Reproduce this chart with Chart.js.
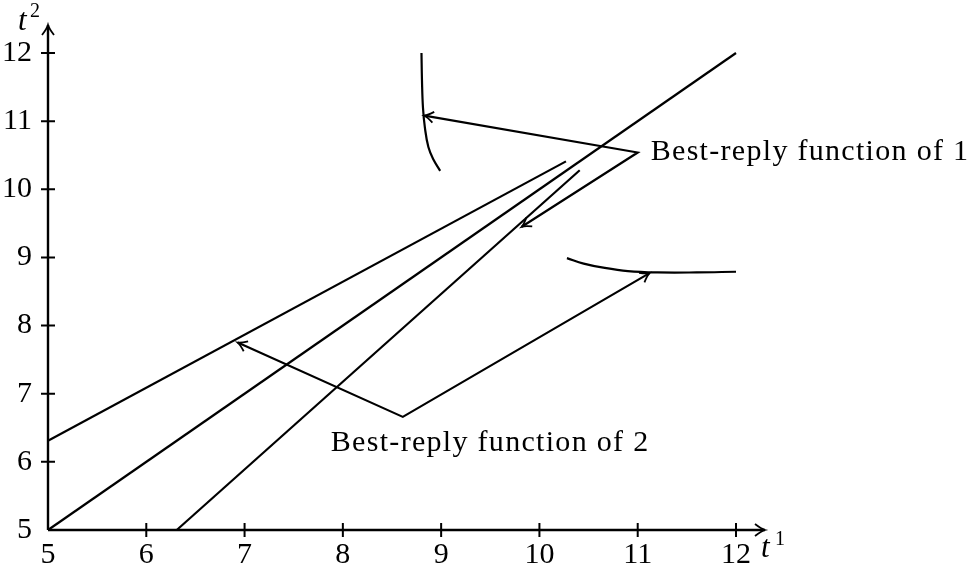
<!DOCTYPE html>
<html>
<head>
<meta charset="utf-8">
<script src="https://cdn.jsdelivr.net/npm/chart.js@4.4.1/dist/chart.umd.min.js"></script>
<style>
  html, body { margin: 0; padding: 0; background: #fff; }
  #wrap { width: 977px; height: 569px; }
</style>
</head>
<body>
<div id="wrap"><canvas id="chart" width="977" height="569"></canvas></div>
<script>
// axis ticks (t1 across, t2 up)
const X_TICKS = [5, 6, 7, 8, 9, 10, 11, 12];
const Y_TICKS = [5, 6, 7, 8, 9, 10, 11, 12];

// straight lines
const UPPER_LINE = [{ x: 5, y: 6.31 }, { x: 10.27, y: 10.41 }];
const DIAGONAL = [{ x: 5, y: 5 }, { x: 12, y: 12 }];
const LOWER_LINE = [{ x: 6.31, y: 5 }, { x: 10.41, y: 10.28 }];

// best-reply curves
const BEST_REPLY_1 = [
  { x: 8.80, y: 12.0 }, { x: 8.805, y: 11.6 }, { x: 8.815, y: 11.2 },
  { x: 8.835, y: 10.9 }, { x: 8.87, y: 10.62 }, { x: 8.92, y: 10.44 },
  { x: 8.99, y: 10.27 }
];
const BEST_REPLY_2 = [
  { x: 10.28, y: 8.99 }, { x: 10.45, y: 8.91 }, { x: 10.65, y: 8.85 },
  { x: 10.9, y: 8.80 }, { x: 11.2, y: 8.78 }, { x: 11.6, y: 8.78 },
  { x: 12.0, y: 8.79 }
];

// callouts: arrow tip, label corner, arrow tip
const CALLOUT_1 = [{ x: 8.83, y: 11.08 }, { x: 11.0, y: 10.54 }, { x: 9.82, y: 9.45 }];
const CALLOUT_2 = [{ x: 6.93, y: 7.75 }, { x: 8.61, y: 6.66 }, { x: 11.12, y: 8.77 }];
const CALLOUT_TEXT = ['Best-reply function of 1', 'Best-reply function of 2'];

const SERIF = '"Liberation Serif", "Times New Roman", serif';
const INK = '#000';

function lineSet(points, tension) {
  return {
    data: points,
    showLine: true,
    borderColor: INK,
    borderWidth: 2.2,
    pointRadius: 0,
    tension: tension || 0,
    fill: false,
    clip: false
  };
}

// LaTeX-style open arrowhead at (tx, ty) pointing away from (fx, fy)
function arrowHead(ctx, fx, fy, tx, ty, size) {
  const a = Math.atan2(ty - fy, tx - fx);
  ctx.save();
  ctx.translate(tx, ty);
  ctx.rotate(a);
  ctx.beginPath();
  ctx.moveTo(-size, -size * 0.6);
  ctx.quadraticCurveTo(-size * 0.35, -size * 0.1, 0, 0);
  ctx.quadraticCurveTo(-size * 0.35, size * 0.1, -size, size * 0.6);
  ctx.lineWidth = 1.8;
  ctx.strokeStyle = INK;
  ctx.stroke();
  ctx.restore();
}

const axesPlugin = {
  id: 'axes',
  afterDraw(chart) {
    const { ctx, scales: { x, y } } = chart;
    const x0 = x.getPixelForValue(5), y0 = y.getPixelForValue(5);
    const xEnd = x.getPixelForValue(12) + 29;
    const yEnd = y.getPixelForValue(12) - 28;

    ctx.save();
    ctx.strokeStyle = INK;
    ctx.lineWidth = 2.4;
    ctx.beginPath();
    ctx.moveTo(x0, y0); ctx.lineTo(xEnd, y0);
    ctx.moveTo(x0, y0); ctx.lineTo(x0, yEnd);
    ctx.stroke();
    arrowHead(ctx, x0, y0, xEnd, y0, 10);
    arrowHead(ctx, x0, y0, x0, yEnd, 10);

    // tick marks crossing the axes
    ctx.lineWidth = 2;
    ctx.beginPath();
    X_TICKS.slice(1).forEach(v => {
      const px = x.getPixelForValue(v);
      ctx.moveTo(px, y0 - 7); ctx.lineTo(px, y0 + 7);
    });
    Y_TICKS.slice(1).forEach(v => {
      const py = y.getPixelForValue(v);
      ctx.moveTo(x0 - 7, py); ctx.lineTo(x0 + 7, py);
    });
    ctx.stroke();

    // callout arrowheads
    [CALLOUT_1, CALLOUT_2].forEach(c => {
      const mx = x.getPixelForValue(c[1].x), my = y.getPixelForValue(c[1].y);
      [c[0], c[2]].forEach(p => {
        arrowHead(ctx, mx, my, x.getPixelForValue(p.x), y.getPixelForValue(p.y), 9);
      });
    });

    // callout labels
    ctx.fillStyle = INK;
    ctx.textBaseline = 'alphabetic';
    ctx.textAlign = 'left';
    ctx.font = '30px ' + SERIF;
    ctx.letterSpacing = '1.3px';
    ctx.fillText(CALLOUT_TEXT[0], x.getPixelForValue(CALLOUT_1[1].x) + 13, y.getPixelForValue(CALLOUT_1[1].y) + 8);
    ctx.fillText(CALLOUT_TEXT[1], x.getPixelForValue(CALLOUT_2[1].x) - 72, y.getPixelForValue(CALLOUT_2[1].y) + 34);
    ctx.letterSpacing = '0px';

    // axis names t^1 and t^2
    ctx.font = 'italic 31px ' + SERIF;
    ctx.fillText('t', xEnd - 4, y0 + 27);
    ctx.fillText('t', x0 - 30, yEnd + 5);
    ctx.font = '20px ' + SERIF;
    ctx.fillText('1', xEnd + 10, y0 + 15);
    ctx.fillText('2', x0 - 18, yEnd - 8);
    ctx.restore();
  }
};

const tickFont = { family: SERIF, size: 30 };

new Chart(document.getElementById('chart'), {
  type: 'scatter',
  data: {
    datasets: [
      lineSet(UPPER_LINE),
      lineSet(DIAGONAL),
      lineSet(LOWER_LINE),
      lineSet(BEST_REPLY_1, 0.4),
      lineSet(BEST_REPLY_2, 0.4),
      lineSet(CALLOUT_1),
      lineSet(CALLOUT_2)
    ]
  },
  options: {
    responsive: false,
    animation: false,
    layout: { padding: { top: 53, right: 241, left: 0, bottom: 0 } },
    plugins: { legend: { display: false }, tooltip: { enabled: false } },
    scales: {
      x: {
        type: 'linear', min: 5, max: 12,
        grid: { display: false }, border: { display: false },
        afterBuildTicks: s => { s.ticks = X_TICKS.map(v => ({ value: v })); },
        afterFit: s => { s.height = 39; },
        ticks: { font: tickFont, color: INK, padding: -1, maxRotation: 0 }
      },
      y: {
        type: 'linear', min: 5, max: 12,
        grid: { display: false }, border: { display: false },
        afterBuildTicks: s => { s.ticks = Y_TICKS.map(v => ({ value: v })); },
        afterFit: s => { s.width = 48; },
        ticks: { font: tickFont, color: INK, padding: 8 }
      }
    }
  },
  plugins: [axesPlugin]
});
</script>
</body>
</html>
